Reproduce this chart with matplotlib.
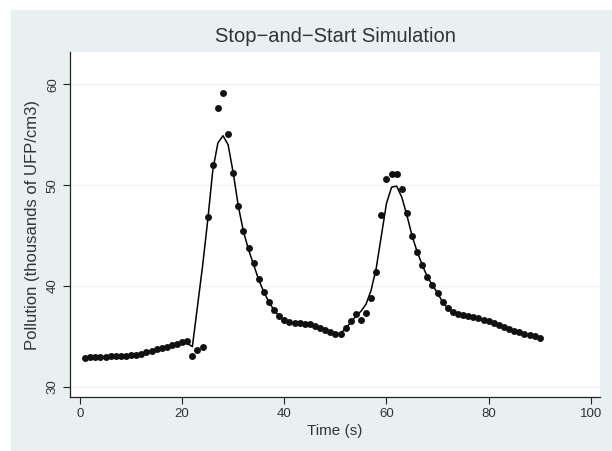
import numpy as np
from matplotlib import pyplot as plt
from matplotlib.patches import Rectangle

plt.rcParams['font.family'] = ['Liberation Sans', 'DejaVu Sans']

# observed pollution, one reading per second (thousands of UFP/cm3)
t_obs = list(range(1, 91))
obs = [32.9, 32.95, 32.95, 33.0, 33.0, 33.05, 33.05, 33.1, 33.1, 33.15,
       33.2, 33.3, 33.45, 33.6, 33.75, 33.9, 34.0, 34.15, 34.3, 34.45,
       34.6, 33.1, 33.7, 34.0, 46.8, 52.0, 57.6, 59.1, 55.1, 51.2,
       47.9, 45.5, 43.8, 42.3, 40.7, 39.4, 38.4, 37.6, 37.0, 36.6,
       36.4, 36.3, 36.3, 36.2, 36.2, 36.0, 35.8, 35.6, 35.4, 35.2,
       35.2, 35.8, 36.5, 37.2, 36.6, 37.3, 38.8, 41.4, 47.0, 50.6,
       51.1, 51.1, 49.6, 47.2, 45.0, 43.4, 42.1, 40.9, 40.1, 39.3,
       38.4, 37.8, 37.4, 37.2, 37.1, 37.0, 36.9, 36.8, 36.6, 36.5,
       36.3, 36.1, 35.9, 35.7, 35.5, 35.4, 35.2, 35.1, 35.0, 34.85]

# simulated curve
sim = [32.9, 32.95, 32.95, 33.0, 33.0, 33.05, 33.05, 33.1, 33.1, 33.15,
       33.2, 33.3, 33.45, 33.6, 33.75, 33.9, 34.0, 34.1, 34.2, 34.3,
       34.3, 34.0, 38.0, 42.0, 46.5, 51.5, 54.2, 54.9, 54.0, 51.2,
       47.9, 45.4, 43.6, 42.1, 40.6, 39.4, 38.4, 37.6, 37.0, 36.6,
       36.4, 36.3, 36.3, 36.2, 36.1, 36.0, 35.8, 35.6, 35.4, 35.2,
       35.3, 35.8, 36.4, 37.0, 37.5, 38.2, 39.6, 41.8, 45.0, 48.2,
       49.8, 49.9, 48.8, 47.0, 45.0, 43.4, 42.1, 40.9, 40.1, 39.3,
       38.4, 37.8, 37.4, 37.2, 37.1, 37.0, 36.9, 36.8, 36.6, 36.5,
       36.3, 36.1, 35.9, 35.7, 35.5, 35.4, 35.2, 35.1, 35.0, 34.85]

xticks = [0, 20, 40, 60, 80, 100]
yticks = [30, 40, 50, 60]

W, H = 612, 451
fig = plt.figure(figsize=(W / 100, H / 100), dpi=100, facecolor='white')
# stata-ish light background, with a thin white edge top and left
fig.patches.append(Rectangle((11 / W, 0), 1 - 11 / W, 1 - 10 / H,
                             transform=fig.transFigure, color='#e8f0f2',
                             zorder=-10))

ax = fig.add_axes([70 / W, 1 - 397 / H, 530 / W, 345 / H])
ax.set_facecolor('white')

ax.plot(t_obs, sim, color='black', lw=1.1, zorder=3)
ax.plot(t_obs, obs, 'o', color='#111111', ms=5.0, mew=0, zorder=4)

ax.set_xlim(-1.96, 101.8)
ax.set_ylim(29.0, 63.2)
ax.set_xticks(xticks)
ax.set_yticks(yticks)
ax.set_yticklabels([str(v) for v in yticks], rotation=90, va='center')
ax.tick_params(length=5, width=0.8, colors='#222222', labelsize=9.5,
               labelcolor='#333333')
ax.tick_params(axis='x', pad=3)
ax.tick_params(axis='y', pad=3)
ax.grid(axis='y', color='#eef3f4', lw=1.0, zorder=0)

for s in ['top', 'right']:
    ax.spines[s].set_visible(False)
for s in ['left', 'bottom']:
    ax.spines[s].set_linewidth(0.9)
    ax.spines[s].set_color('#222222')

ax.set_xlabel('Time (s)', fontsize=11, color='#333333', labelpad=3)
ax.set_ylabel('Pollution (thousands of UFP/cm3)', fontsize=12,
              color='#333333', labelpad=5)

fig.text(335 / W, 1 - 36 / H, 'Stop\u2212and\u2212Start Simulation',
         ha='center', va='center', fontsize=14.5, color='#333333')

fig.savefig('out.png', dpi=100, facecolor=fig.get_facecolor())
